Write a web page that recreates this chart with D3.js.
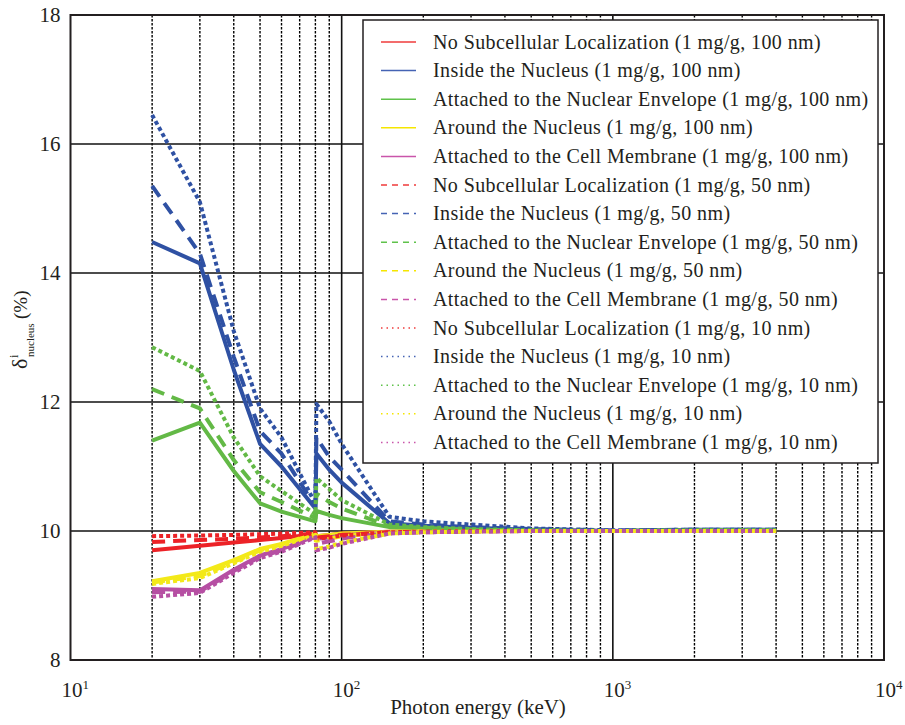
<!DOCTYPE html>
<html>
<head>
<meta charset="utf-8">
<script src="https://cdn.jsdelivr.net/npm/d3@7"></script>
<style>
	body { margin: 0; background: #fff; }
	text { font-family: "Liberation Serif", "Times New Roman", serif; fill: #231f20; }
</style>
</head>
<body>
<svg id="chart" width="905" height="725"></svg>
<script>
/*	Photon energies (keV) - 80.7 is the gold K-edge ---------------------------*/
var energies = [20, 30, 40, 50, 60, 80, 80.7, 90, 100, 150, 200, 300, 500, 1000, 2000, 4000];

/*	Series values, one array per localization and nanoparticle size ----------*/
var noLoc100   = [9.70, 9.77, 9.82, 9.86, 9.89, 9.95, 9.92, 9.94, 9.96, 9.99, 10.0, 10.0, 10.0, 10.0, 10.0, 10.0];
var inside100  = [14.48, 14.15, 12.5, 11.35, 11.0, 10.35, 11.2, 10.95, 10.75, 10.12, 10.08, 10.05, 10.02, 10.0, 10.02, 10.02];
var envel100   = [11.4, 11.68, 10.93, 10.43, 10.3, 10.15, 10.31, 10.25, 10.2, 10.06, 10.04, 10.02, 10.01, 10.0, 10.01, 10.01];
var around100  = [9.22, 9.35, 9.55, 9.72, 9.8, 9.96, 9.92, 9.94, 9.96, 9.99, 10.0, 10.0, 10.0, 10.0, 10.0, 10.0];
var membr100   = [9.1, 9.08, 9.4, 9.62, 9.72, 9.92, 9.88, 9.9, 9.93, 9.98, 9.99, 10.0, 10.0, 10.0, 10.0, 10.0];

var noLoc50    = [9.83, 9.86, 9.88, 9.90, 9.92, 9.96, 9.90, 9.92, 9.94, 9.98, 9.99, 10.0, 10.0, 10.0, 10.0, 10.0];
var inside50   = [15.35, 14.3, 12.7, 11.55, 11.2, 10.38, 11.45, 11.15, 10.95, 10.15, 10.1, 10.06, 10.03, 10.01, 10.02, 10.02];
var envel50    = [12.2, 11.9, 11.1, 10.6, 10.45, 10.2, 10.58, 10.45, 10.35, 10.07, 10.05, 10.02, 10.01, 10.0, 10.01, 10.01];
var around50   = [9.2, 9.3, 9.52, 9.7, 9.79, 9.95, 9.85, 9.88, 9.92, 9.98, 9.99, 10.0, 10.0, 10.0, 10.0, 10.0];
var membr50    = [9.05, 9.06, 9.38, 9.6, 9.7, 9.91, 9.8, 9.84, 9.88, 9.97, 9.98, 9.99, 10.0, 10.0, 10.0, 10.0];

var noLoc10    = [9.92, 9.93, 9.94, 9.95, 9.96, 9.98, 9.88, 9.90, 9.93, 9.98, 9.99, 10.0, 10.0, 10.0, 10.0, 10.0];
var inside10   = [16.45, 15.1, 13.1, 11.9, 11.45, 10.42, 11.97, 11.7, 11.35, 10.22, 10.15, 10.1, 10.04, 10.01, 10.02, 10.02];
var envel10    = [12.85, 12.48, 11.45, 10.85, 10.62, 10.26, 10.82, 10.65, 10.48, 10.1, 10.06, 10.03, 10.01, 10.0, 10.01, 10.01];
var around10   = [9.18, 9.27, 9.5, 9.68, 9.77, 9.94, 9.72, 9.76, 9.82, 9.96, 9.98, 9.99, 10.0, 10.0, 10.0, 10.0];
var membr10    = [8.98, 9.04, 9.35, 9.58, 9.68, 9.9, 9.7, 9.74, 9.8, 9.96, 9.98, 9.99, 10.0, 10.0, 10.0, 10.0];

/*	Legend labels and tick values ---------------------------------------------*/
var localizations = ["No Subcellular Localization", "Inside the Nucleus",
	"Attached to the Nuclear Envelope", "Around the Nucleus", "Attached to the Cell Membrane"];
var sizes = ["100 nm", "50 nm", "10 nm"];
var yTicks = [8, 10, 12, 14, 16, 18];
var xDecades = [10, 100, 1000, 10000];
var xExponents = ["1", "2", "3", "4"];

var seriesValues = [
	[noLoc100, inside100, envel100, around100, membr100],
	[noLoc50, inside50, envel50, around50, membr50],
	[noLoc10, inside10, envel10, around10, membr10]
];

var colors = ["#ec2227", "#2f51a3", "#63b946", "#f3e919", "#b64fa3"];
var legendColors = ["#ef3b3b", "#4563b4", "#5fc24a", "#f5e600", "#c955aa"];
var dashes = [null, "13,8", "4,3"];
var legendDashes = [null, "6,5", "1.5,4"];

var width = 905, height = 725;
var padding = {left: 70.5, right: 21, top: 15, bottom: 65};

var svg = d3.select("#chart");

var xScale = d3.scaleLog().domain([10, 10000]).range([padding.left, width - padding.right]);
var yScale = d3.scaleLinear().domain([8, 18]).range([height - padding.bottom, padding.top]);

/*	Vertical grid lines, dotted on minor ticks, solid on decades -------------*/
var minorTicks = [];
[10, 100, 1000].forEach(function(dec) {
	for (var k = 2; k <= 9; k++) minorTicks.push(dec * k);
});
svg.append("g").selectAll("line.minor")
	.data(minorTicks)
	.enter()
	.append("line")
	.attr("class", "minor")
	.attr("x1", function(d) { return xScale(d); })
	.attr("x2", function(d) { return xScale(d); })
	.attr("y1", yScale(18))
	.attr("y2", yScale(8))
	.attr("stroke", "#000")
	.attr("stroke-width", 1.4)
	.attr("stroke-dasharray", "2.5,1.5");

svg.append("g").selectAll("line.major")
	.data([100, 1000])
	.enter()
	.append("line")
	.attr("x1", function(d) { return xScale(d); })
	.attr("x2", function(d) { return xScale(d); })
	.attr("y1", yScale(18))
	.attr("y2", yScale(8))
	.attr("stroke", "#111")
	.attr("stroke-width", 1.6);

/*	Horizontal grid lines -----------------------------------------------------*/
svg.append("g").selectAll("line")
	.data([10, 12, 14, 16])
	.enter()
	.append("line")
	.attr("x1", xScale(10))
	.attr("x2", xScale(10000))
	.attr("y1", function(d) { return yScale(d); })
	.attr("y2", function(d) { return yScale(d); })
	.attr("stroke", "#111")
	.attr("stroke-width", 1.6);

/*	Data lines ----------------------------------------------------------------*/
var line = d3.line()
	.x(function(d) { return xScale(d.e); })
	.y(function(d) { return yScale(d.v); });

var plotGroup = svg.append("g");
seriesValues.forEach(function(group, s) {
	group.forEach(function(values, c) {
		var pts = energies.map(function(e, i) { return {e: e, v: values[i]}; });
		plotGroup.append("path")
			.datum(pts)
			.attr("d", line)
			.attr("fill", "none")
			.attr("stroke", colors[c])
			.attr("stroke-width", 4)
			.attr("stroke-linejoin", "round")
			.attr("stroke-dasharray", dashes[s]);
	});
});

/*	Frame ---------------------------------------------------------------------*/
svg.append("rect")
	.attr("x", xScale(10))
	.attr("y", yScale(18))
	.attr("width", xScale(10000) - xScale(10))
	.attr("height", yScale(8) - yScale(18))
	.attr("fill", "none")
	.attr("stroke", "#231f20")
	.attr("stroke-width", 2);

/*	Axis labels ---------------------------------------------------------------*/
svg.append("g").selectAll("text")
	.data(yTicks)
	.enter()
	.append("text")
	.attr("x", padding.left - 10)
	.attr("y", function(d) { return yScale(d) + 7; })
	.attr("text-anchor", "end")
	.attr("font-size", "21px")
	.text(function(d) { return d; });

var xLabels = svg.append("g").selectAll("text")
	.data(xDecades)
	.enter()
	.append("text")
	.attr("x", function(d) { return xScale(d) - 9; })
	.attr("y", 697)
	.attr("font-size", "21px");
xLabels.append("tspan").text("10");
xLabels.append("tspan")
	.attr("dy", -8)
	.attr("font-size", "13px")
	.text(function(d, i) { return xExponents[i]; });

svg.append("text")
	.attr("x", 478)
	.attr("y", 714)
	.attr("text-anchor", "middle")
	.attr("font-size", "21px")
	.text("Photon energy (keV)");

/*	Y label: delta with superscript i and subscript nucleus --------------------*/
var yLab = svg.append("g").attr("transform", "translate(27,331)rotate(-90)");
yLab.append("text").attr("x", -38).attr("y", 0).attr("font-size", "22px").text("δ");
yLab.append("text").attr("x", -27).attr("y", -9).attr("font-size", "12px").text("i");
yLab.append("text").attr("x", -26).attr("y", 7).attr("font-size", "11px").text("nucleus");
yLab.append("text").attr("x", 12).attr("y", 0).attr("font-size", "19px").text("(%)");

/*	Legend --------------------------------------------------------------------*/
var legend = svg.append("g");
legend.append("rect")
	.attr("x", 363)
	.attr("y", 20)
	.attr("width", 515)
	.attr("height", 443)
	.attr("fill", "#fff")
	.attr("stroke", "#231f20")
	.attr("stroke-width", 1.5);

var legendItems = [];
sizes.forEach(function(sz, s) {
	localizations.forEach(function(loc, c) {
		legendItems.push({label: loc + " (1 mg/g, " + sz + ")", c: c, s: s});
	});
});

var rows = legend.selectAll("g.row")
	.data(legendItems)
	.enter()
	.append("g")
	.attr("class", "row")
	.attr("transform", function(d, i) { return "translate(0," + (42 + i * 28.6) + ")"; });
rows.append("line")
	.attr("x1", 381)
	.attr("x2", 416)
	.attr("stroke", function(d) { return legendColors[d.c]; })
	.attr("stroke-width", 1.5)
	.attr("stroke-dasharray", function(d) { return legendDashes[d.s]; });
rows.append("text")
	.attr("x", 433)
	.attr("y", 6.5)
	.attr("font-size", "20px")
	.attr("letter-spacing", "0.4px")
	.text(function(d) { return d.label; });
</script>
</body>
</html>
